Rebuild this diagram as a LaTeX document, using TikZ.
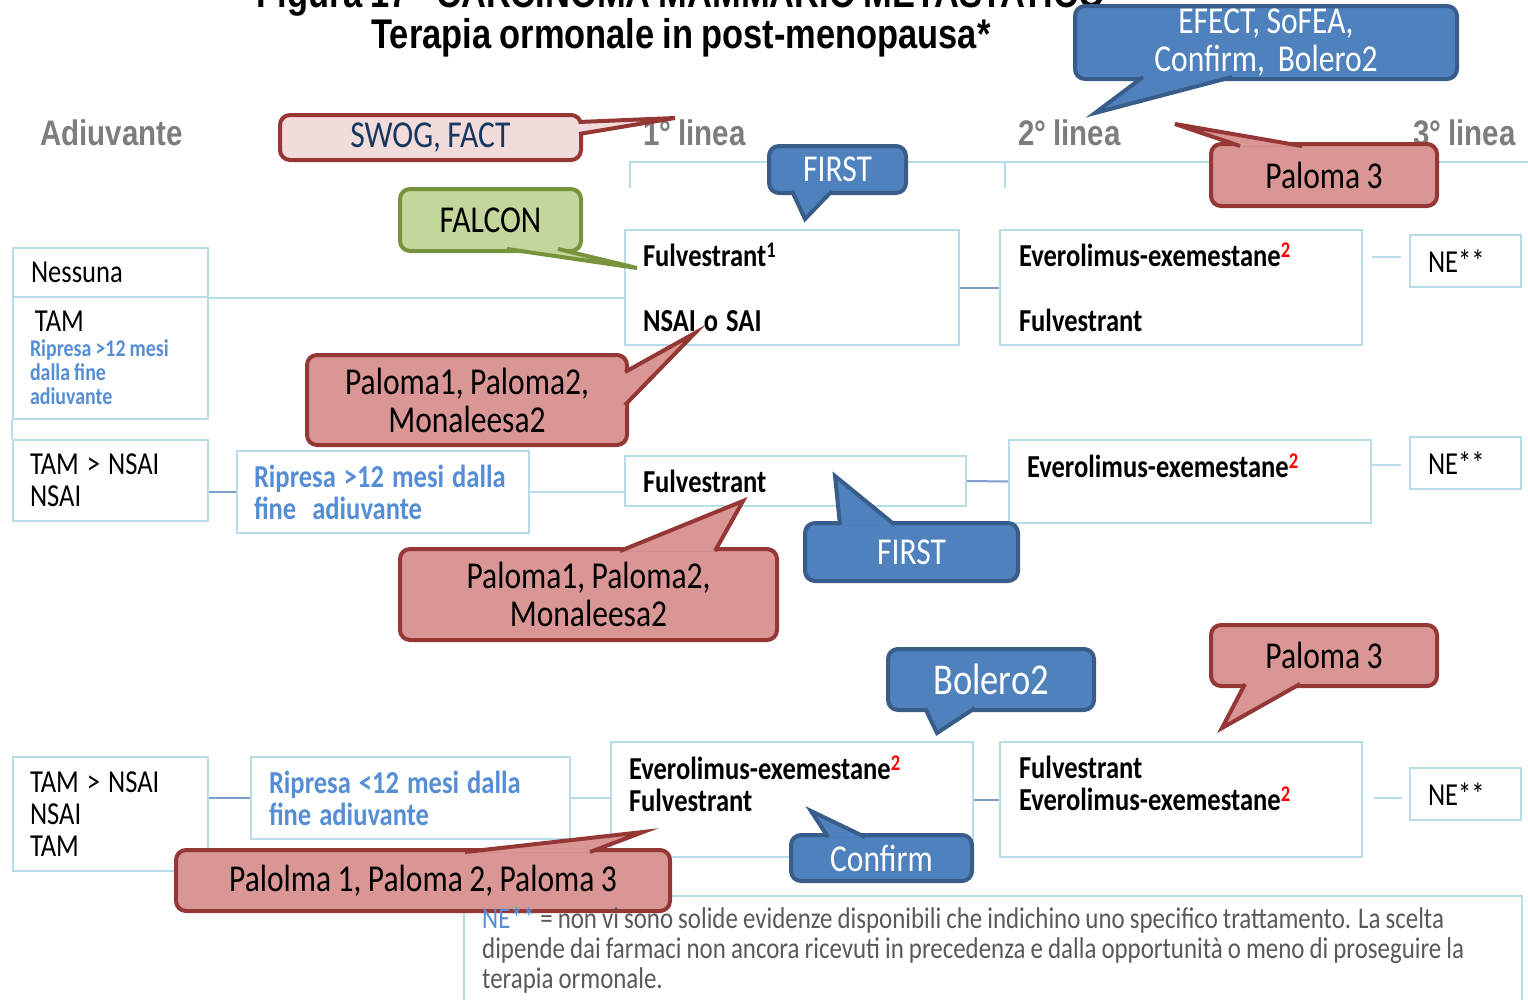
\documentclass[tikz,border=0pt]{standalone}
\usepackage{fontspec}
\setmainfont{Carlito}[FakeStretch=0.83,WordSpace=0.9]
\newfontfamily\hdfont{Liberation Sans}[FakeStretch=0.83,WordSpace=0.85]
\newcommand{\natsp}{\spaceskip=0pt\xspaceskip=0pt\relax}
\newcommand{\boxsp}{\spaceskip=0.25em\xspaceskip=0.25em\relax}

\definecolor{boxc}{RGB}{183,222,232}
\definecolor{linkc}{RGB}{125,158,205}
\definecolor{bluet}{RGB}{85,142,213}
\definecolor{headc}{RGB}{125,125,125}
\definecolor{footc}{RGB}{89,89,89}
\definecolor{navyt}{RGB}{23,55,94}
\definecolor{cbluef}{RGB}{79,129,189}
\definecolor{cbluel}{RGB}{56,93,138}
\definecolor{credf}{RGB}{217,150,148}
\definecolor{credl}{RGB}{149,55,53}
\definecolor{cpinkf}{RGB}{242,220,219}
\definecolor{cgreenf}{RGB}{195,214,155}
\definecolor{cgreenl}{RGB}{119,147,60}

\begin{document}
\begin{tikzpicture}[
  x=1pt,
  y=-1pt,
  box/.style={
    draw=boxc,
    line width=2pt,
    inner sep=0pt,
    align=left,
    font=\fontsize{32}{32}\selectfont
  },
  boldbox/.style={box, font=\fontsize{32}{32}\selectfont\bfseries},
  ripbox/.style={box, font=\fontsize{32}{32}\selectfont\bfseries, text=bluet},
  link/.style={draw=boxc, line width=2pt},
  linkb/.style={draw=linkc, line width=2pt},
  hdtext/.style={
    anchor=base west,
    inner sep=0pt,
    text=headc,
    font=\hdfont\bfseries\fontsize{35.5}{35.5}\selectfont
  },
  call/.style={
    rounded corners=10pt,
    line width=4pt,
    inner sep=0pt,
    align=center,
    font=\fontsize{38}{38}\selectfont
  },
  bluecall/.style={call, fill=cbluef, draw=cbluel, text=white},
  redcall/.style={call, fill=credf, draw=credl, text=black},
  pinkcall/.style={call, fill=cpinkf, draw=credl, text=navyt},
  greencall/.style={call, fill=cgreenf, draw=cgreenl, text=black},
  blueptr/.style={fill=cbluef, draw=cbluel, line width=4pt},
  redptr/.style={fill=credf, draw=credl, line width=4pt},
  pinkptr/.style={fill=cpinkf, draw=credl, line width=4pt},
  greenptr/.style={fill=cgreenf, draw=cgreenl, line width=4pt}
]
\useasboundingbox (0,0) rectangle (1528,999);
\fill[white] (0,0) rectangle (1528,999);

% titles and column heads
\node[anchor=base, inner sep=0pt, font=\hdfont\bfseries\fontsize{41.5}{41.5}\selectfont] (title1) at (681,7) {Figura 17 - CARCINOMA MAMMARIO METASTATICO};
\node[anchor=base, inner sep=0pt, font=\hdfont\bfseries\fontsize{41.5}{41.5}\selectfont] (title2) at (681,48) {Terapia ormonale in post-menopausa*};
\node[hdtext] (hadj) at (40,145) {Adiuvante};
\node[hdtext] (hlin1) at (643,145) {1° linea};
\node[hdtext] (hlin2) at (1018,145) {2° linea};
\node[hdtext] (hlin3) at (1413,145) {3° linea};
\draw[link] (630,188) -- (630,162) -- (1528,162);
\draw[link] (1005,162) -- (1005,188);

% row 1
\node[box, minimum width=195pt, minimum height=49pt, text width=159pt] (nes) at (110.5,272.5) {\boxsp Nessuna};
\node[box, minimum width=195pt, minimum height=122pt, text width=161pt] (tam) at (110.5,358) {\boxsp\hspace*{5pt}TAM\\[-7pt]{\natsp\fontsize{24}{24}\selectfont\bfseries\color{bluet}Ripresa >12 mesi}\\[-8pt]{\natsp\fontsize{24}{24}\selectfont\bfseries\color{bluet}dalla fine}\\[-8pt]{\natsp\fontsize{24}{24}\selectfont\bfseries\color{bluet}adiuvante}};
\node[boldbox, minimum width=334pt, minimum height=115pt, text width=298pt] (f1) at (792,287.5) {\boxsp Fulvestrant\textsuperscript{1}\\[33pt]NSAI o SAI};
\node[boldbox, minimum width=362pt, minimum height=115pt, text width=324pt] (e1) at (1181,287.5) {\boxsp Everolimus-exemestane\textsuperscript{\color{red}2}\\[33pt]Fulvestrant};
\node[box, minimum width=111pt, minimum height=52pt, text width=75pt] (ne1) at (1465.5,261) {\boxsp NE**};

% row 2
\node[box, minimum width=195pt, minimum height=81pt, text width=161pt] (tn2) at (110.5,480.5) {\boxsp TAM > NSAI\\NSAI};
\node[ripbox, minimum width=292pt, minimum height=82pt, text width=258pt] (rip2) at (383,492) {\boxsp\mbox{Ripresa >12 mesi dalla}\\fine~~adiuvante};
\node[boldbox, minimum width=341pt, minimum height=50pt, text width=305pt] (fv2) at (795.5,481) {\boxsp Fulvestrant};
\node[boldbox, minimum width=362pt, minimum height=83pt, text width=326pt] (ev2) at (1190,481.5) {\boxsp Everolimus-exemestane\textsuperscript{\color{red}2}\\\mbox{}};
\node[box, minimum width=111pt, minimum height=52pt, text width=75pt] (ne2) at (1465.5,463) {\boxsp NE**};

% row 3
\node[box, minimum width=195pt, minimum height=114pt, text width=161pt] (tn3) at (110.5,814) {\boxsp TAM > NSAI\\NSAI\\TAM};
\node[ripbox, minimum width=319pt, minimum height=82pt, text width=283pt] (rip3) at (410.5,798) {\boxsp Ripresa <12 mesi dalla\\fine adiuvante};
\node[boldbox, minimum width=362pt, minimum height=115pt, text width=326pt] (ev3) at (792,799.5) {\boxsp Everolimus-exemestane\textsuperscript{\color{red}2}\\Fulvestrant\\\mbox{}};
\node[boldbox, minimum width=362pt, minimum height=115pt, text width=324pt] (fv3) at (1181,799.5) {\boxsp Fulvestrant\\Everolimus-exemestane\textsuperscript{\color{red}2}\\\mbox{}};
\node[box, minimum width=111pt, minimum height=52pt, text width=75pt] (ne3) at (1465.5,794) {\boxsp NE**};

% connectors
\draw[link] (nes.south east) -- (nes.south east -| f1.west);
\draw[link] (tam.south west) -- (tn2.north west);
\draw[linkb] (f1.east) -- (e1.west);
\draw[link] ([xshift=-37pt,yshift=4pt]ne1.west) -- ([xshift=-8pt,yshift=4pt]ne1.west);
\draw[linkb] (tn2.east |- rip2.west) -- (rip2.west);
\draw[link] (rip2.east) -- (rip2.east -| fv2.west);
\draw[linkb] (fv2.east) -- (ev2.west);
\draw[link] ([xshift=-37pt,yshift=-2pt]ne2.west) -- ([xshift=-8pt,yshift=-2pt]ne2.west);
\draw[linkb] (tn3.east |- rip3.west) -- (rip3.west);
\draw[link] (rip3.east) -- (ev3.west |- rip3.east);
\draw[linkb] (ev3.east) -- (fv3.west);
\draw[link] ([xshift=-35pt,yshift=-4pt]ne3.west) -- ([xshift=-7pt,yshift=-4pt]ne3.west);

% footnote box
\node[box, anchor=north west, minimum width=1058pt, minimum height=130pt] (note) at (463,895) {};

% callouts
\node[pinkcall, minimum width=301pt, minimum height=45pt] (swog) at (430.5,137.5) {SWOG, FACT};
\coordinate (swogtip) at (675,118);
\filldraw[pinkptr] (579,122) -- (swogtip) -- (579,134);

\node[bluecall, minimum width=382pt, minimum height=73pt] (efect) at (1266,42.5) {EFECT, SoFEA,\\Confirm,~~Bolero2};
\coordinate (efecttip) at (1095,113);
\filldraw[blueptr] (1143,77) -- (efecttip) -- (1232,77);

\node[bluecall, minimum width=137pt, minimum height=47pt] (firsta) at (837.5,169.5) {FIRST};
\coordinate (firstatip) at (805,219);
\filldraw[blueptr] (792,191) -- (firstatip) -- (832,191);

\node[redcall, minimum width=226pt, minimum height=62pt] (palthreea) at (1324,175) {Paloma 3};
\coordinate (palthreeatip) at (1175,124);
\filldraw[redptr] (1240,146) -- (palthreeatip) -- (1302,146);

\node[greencall, minimum width=181pt, minimum height=62pt] (falcon) at (490.5,220) {FALCON};
\coordinate (falcontip) at (637,268);
\filldraw[greenptr] (507,249) -- (falcontip) -- (558,249);

\node[redcall, minimum width=320pt, minimum height=90pt] (pala) at (467,400) {Paloma1, Paloma2,\\Monaleesa2};
\coordinate (palatip) at (695,333);
\filldraw[redptr] (625,372) -- (palatip) -- (625,405);

\node[bluecall, minimum width=213pt, minimum height=58pt] (firstb) at (911.5,552) {FIRST};
\coordinate (firstbtip) at (835,476);
\filldraw[blueptr] (840,525) -- (firstbtip) -- (895,525);

\node[redcall, minimum width=377pt, minimum height=91pt] (palb) at (588.5,594.5) {Paloma1, Paloma2,\\Monaleesa2};
\coordinate (palbtip) at (743,501);
\filldraw[redptr] (620,551) -- (palbtip) -- (715,551);

\node[bluecall, minimum width=206pt, minimum height=61pt, font=\fontsize{44}{44}\selectfont] (bolero) at (991,679.5) {Bolero2};
\coordinate (bolerotip) at (937,733);
\filldraw[blueptr] (925,708) -- (bolerotip) -- (975,708);

\node[redcall, minimum width=226pt, minimum height=61pt] (palthreeb) at (1324,655.5) {Paloma 3};
\coordinate (palthreebtip) at (1222,728);
\filldraw[redptr] (1245,684) -- (palthreebtip) -- (1300,684);

\node[bluecall, minimum width=181pt, minimum height=46pt] (confirm) at (881.5,858) {Confirm};
\coordinate (confirmtip) at (811,811);
\filldraw[blueptr] (828,837) -- (confirmtip) -- (865,837);

\node[redcall, minimum width=494pt, minimum height=61pt] (palc) at (423,880.5) {Palolma 1, Paloma 2, Paloma 3};
\coordinate (palctip) at (643,832);
\filldraw[redptr] (465,852) -- (palctip) -- (590,852);

% footnote text
\node[anchor=north west, inner sep=0pt, align=left, text=footc, font=\fontsize{30}{30}\selectfont] (notetxt) at (482,907) {\natsp{\color{bluet}NE**} = non vi sono solide evidenze disponibili che indichino uno specifico trattamento. La scelta\\dipende dai farmaci non ancora ricevuti in precedenza e dalla opportunità o meno di proseguire la\\terapia ormonale.};
\end{tikzpicture}
\end{document}
